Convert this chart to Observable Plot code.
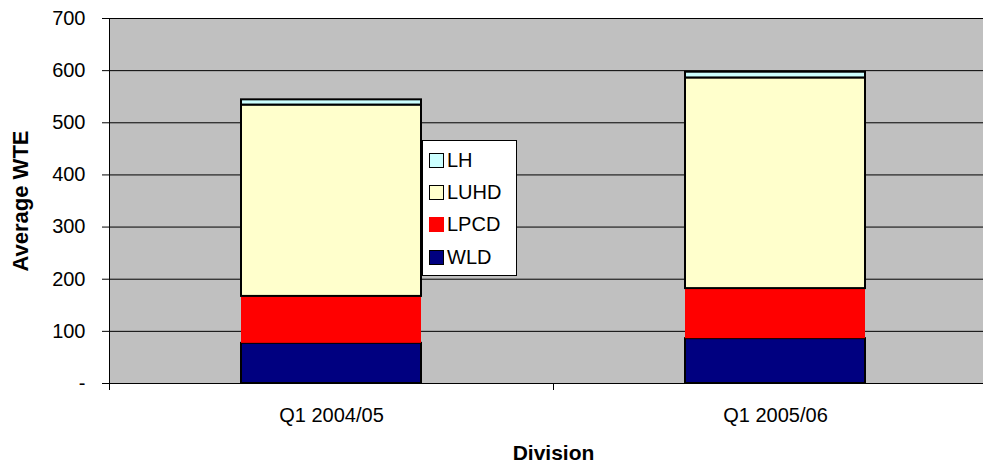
<!DOCTYPE html>
<html>
<head>
<meta charset="utf-8">
<script src="https://cdn.jsdelivr.net/npm/d3@7"></script>
<script src="https://cdn.jsdelivr.net/npm/@observablehq/plot@0.6"></script>
<style>
  body { margin: 0; background: white; }
  #chart { position: relative; width: 983px; height: 463px; overflow: hidden; font-family: "Liberation Sans", Arial, sans-serif; }
  #chart svg [aria-label="x-axis label"] text { font-weight: bold; font-size: 21px; }
  #chart svg [aria-label="y-axis label"] text { font-weight: bold; font-size: 22px; }
  .legend { position: absolute; left: 422px; top: 140px; width: 95px; height: 136px; box-sizing: border-box;
            background: white; border: 1px solid #000; font-size: 20px; color: #000; }
  .legend .item { position: absolute; left: 6px; height: 22px; display: flex; align-items: center; }
  .legend .sw { width: 15px; height: 15px; box-sizing: border-box; border: 1.5px solid #000; margin-right: 3px; }
</style>
</head>
<body>
<div id="chart"></div>
<script>
// Average WTE by division, per quarter
const quarters = ["Q1 2004/05", "Q1 2005/06"];
const divisions = ["WLD", "LPCD", "LUHD", "LH"];           // stacking order, bottom to top
const colors = ["#000080", "#FF0000", "#FFFFCC", "#CCFFFF"];
const wld  = [77, 86];
const lpcd = [90, 96];
const luhd = [367, 404];
const lh   = [10, 11];
const yTicks = [0, 100, 200, 300, 400, 500, 600, 700];

const series = [wld, lpcd, luhd, lh];
const rows = [];
quarters.forEach((q, i) => divisions.forEach((d, j) => rows.push({quarter: q, division: d, value: series[j][i]})));

const width = 983, height = 463;
const marginLeft = 109, marginRight = -14;
const paddingInner = 0.5946, paddingOuter = paddingInner / 2;
const step = (width - marginLeft - marginRight) / (quarters.length - paddingInner + 2 * paddingOuter);

const plot = Plot.plot({
  width, height,
  marginLeft, marginRight, marginTop: 18, marginBottom: 80,
  style: {fontFamily: "Liberation Sans, Arial, sans-serif", fontSize: "20px", background: "white", color: "black"},
  x: {domain: quarters, paddingInner, paddingOuter, label: null},
  y: {domain: [0, 700], label: null},
  color: {domain: divisions, range: colors},
  marks: [
    Plot.frame({fill: "#C0C0C0"}),
    Plot.gridY(yTicks, {stroke: "black", strokeOpacity: 1}),
    Plot.barY(rows, {
      x: "quarter", y: "value", fill: "division", order: divisions,
      stroke: "black", strokeWidth: 2,
      strokeOpacity: d => d.division === "LPCD" ? 0 : 1
    }),
    Plot.frame({stroke: "black"}),
    Plot.axisY(yTicks, {
      fontSize: 20, tickSize: 7, tickPadding: 17,
      tickFormat: d => d === 0 ? "-" : d,
      label: "Average WTE", labelAnchor: "center", labelArrow: "none", labelOffset: 97
    }),
    Plot.axisX({fontSize: 20, tickSize: 0, tickPadding: 24, label: "Division", labelAnchor: "center", labelArrow: "none", labelOffset: 76}),
    // category separators on the x axis
    Plot.axisX(quarters, {tickSize: 7, tickFormat: () => "", dx: -step / 2, label: null})
  ]
});

const chart = document.getElementById("chart");
chart.appendChild(plot);

// Legend, top entry first
const legend = document.createElement("div");
legend.className = "legend";
divisions.slice().reverse().forEach((d, k) => {
  const item = document.createElement("div");
  item.className = "item";
  item.style.top = (8 + k * 32.4) + "px";
  const sw = document.createElement("span");
  sw.className = "sw";
  sw.style.background = colors[divisions.indexOf(d)];
  if (d === "LPCD") sw.style.borderColor = colors[divisions.indexOf(d)];
  item.appendChild(sw);
  item.appendChild(document.createTextNode(d));
  legend.appendChild(item);
});
chart.appendChild(legend);
</script>
</body>
</html>
